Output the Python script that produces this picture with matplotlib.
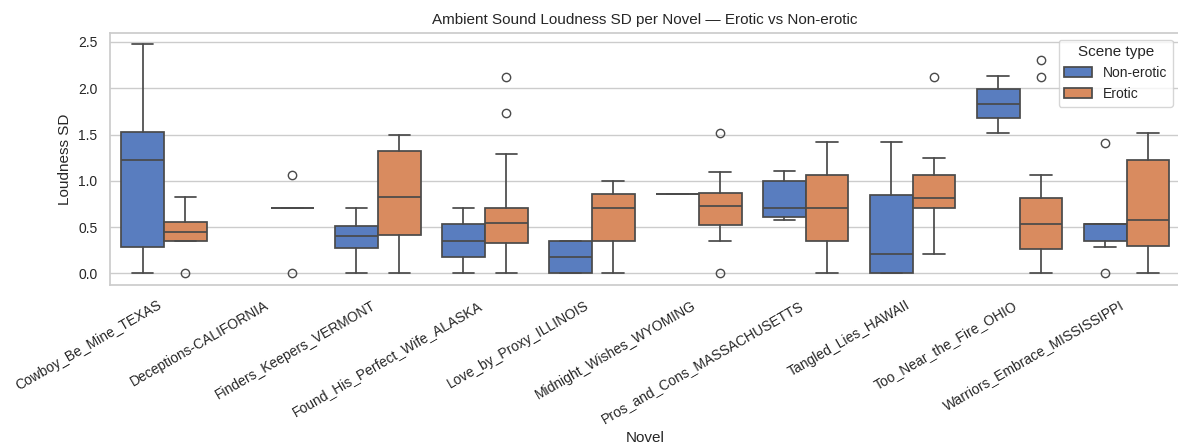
import numpy as np
import matplotlib
matplotlib.use("Agg")
import matplotlib.pyplot as plt
import matplotlib.patches as mpatches
import seaborn as sns

novels = ["Cowboy_Be_Mine_TEXAS", "Deceptions-CALIFORNIA", "Finders_Keepers_VERMONT",
          "Found_His_Perfect_Wife_ALASKA", "Love_by_Proxy_ILLINOIS", "Midnight_Wishes_WYOMING",
          "Pros_and_Cons_MASSACHUSETTS", "Tangled_Lies_HAWAII", "Too_Near_the_Fire_OHIO",
          "Warriors_Embrace_MISSISSIPPI"]
hues = ["Non-erotic", "Erotic"]

# box stats per novel (None = no data for that group)
ne_q1 = [0.29, None, 0.27, 0.18, 0.0, 0.86, 0.61, 0.0, 1.68, 0.35]
ne_med = [1.22, None, 0.40, 0.35, 0.18, 0.86, 0.71, 0.21, 1.83, 0.53]
ne_q3 = [1.53, None, 0.51, 0.53, 0.35, 0.86, 1.00, 0.85, 1.99, 0.53]
ne_lo = [0.0, None, 0.0, 0.0, 0.0, 0.86, 0.58, 0.0, 1.52, 0.29]
ne_hi = [2.48, None, 0.71, 0.71, 0.35, 0.86, 1.11, 1.42, 2.13, 0.53]
ne_fliers = [[], [], [], [], [], [], [], [], [], [1.41, 0.0]]

er_q1 = [0.35, 0.71, 0.41, 0.33, 0.35, 0.52, 0.35, 0.71, 0.26, 0.30]
er_med = [0.45, 0.71, 0.82, 0.54, 0.71, 0.73, 0.71, 0.81, 0.53, 0.58]
er_q3 = [0.55, 0.71, 1.32, 0.71, 0.86, 0.87, 1.06, 1.06, 0.81, 1.23]
er_lo = [0.35, 0.71, 0.0, 0.0, 0.0, 0.35, 0.0, 0.21, 0.0, 0.0]
er_hi = [0.82, 0.71, 1.50, 1.29, 1.0, 1.09, 1.42, 1.25, 1.06, 1.52]
er_fliers = [[0.0], [1.06, 0.0], [], [2.12, 1.73], [], [1.52, 0.0], [], [2.12], [2.30, 2.12], []]

sns.set_theme(style="whitegrid")
plt.rcParams['font.family'] = ['Liberation Sans', 'DejaVu Sans']

pal = sns.color_palette("muted", 2)
colors = [sns.desaturate(c, 0.75) for c in pal]
line_c = "#4a4a4a"


def make_stats(q1, med, q3, lo, hi, fl):
    out, pos = [], []
    for i in range(len(q1)):
        if q1[i] is None:
            continue
        out.append(dict(q1=q1[i], med=med[i], q3=q3[i], whislo=lo[i], whishi=hi[i], fliers=fl[i]))
        pos.append(i)
    return out, pos


fig, ax = plt.subplots(figsize=(11.78, 4.48), dpi=100)
groups = [(ne_q1, ne_med, ne_q3, ne_lo, ne_hi, ne_fliers),
          (er_q1, er_med, er_q3, er_lo, er_hi, er_fliers)]
for k, g in enumerate(groups):
    stats, pos = make_stats(*g)
    pos = np.array(pos) + (-0.2 if k == 0 else 0.2)
    ax.bxp(stats, positions=pos, widths=0.4, patch_artist=True, manage_ticks=False,
           boxprops=dict(facecolor=colors[k], edgecolor=line_c, linewidth=1.25),
           medianprops=dict(color=line_c, linewidth=1.25),
           whiskerprops=dict(color=line_c, linewidth=1.25),
           capprops=dict(color=line_c, linewidth=1.25),
           flierprops=dict(marker='o', markerfacecolor='none', markeredgecolor=line_c,
                           markersize=6, markeredgewidth=1.0))

ax.set_xlim(-0.5, len(novels) - 0.5)
ax.set_ylim(-0.125, 2.6)
ax.set_xticks(range(len(novels)))
ax.set_xticklabels(novels, rotation=30, ha='right', fontsize=10)
ax.tick_params(axis='y', labelsize=10)
ax.xaxis.grid(False)
ax.set_xlabel("Novel", fontsize=11)
ax.set_ylabel("Loudness SD", fontsize=11)
ax.set_title("Ambient Sound Loudness SD per Novel — Erotic vs Non-erotic", fontsize=11)

handles = [mpatches.Patch(facecolor=colors[i], edgecolor=line_c, linewidth=1.25, label=hues[i])
           for i in range(2)]
ax.legend(handles=handles, title="Scene type", loc="upper right", fontsize=10, title_fontsize=11)

fig.subplots_adjust(left=0.0938, right=1.0017, top=0.927, bottom=0.364)
fig.savefig("out.png", dpi=100)
